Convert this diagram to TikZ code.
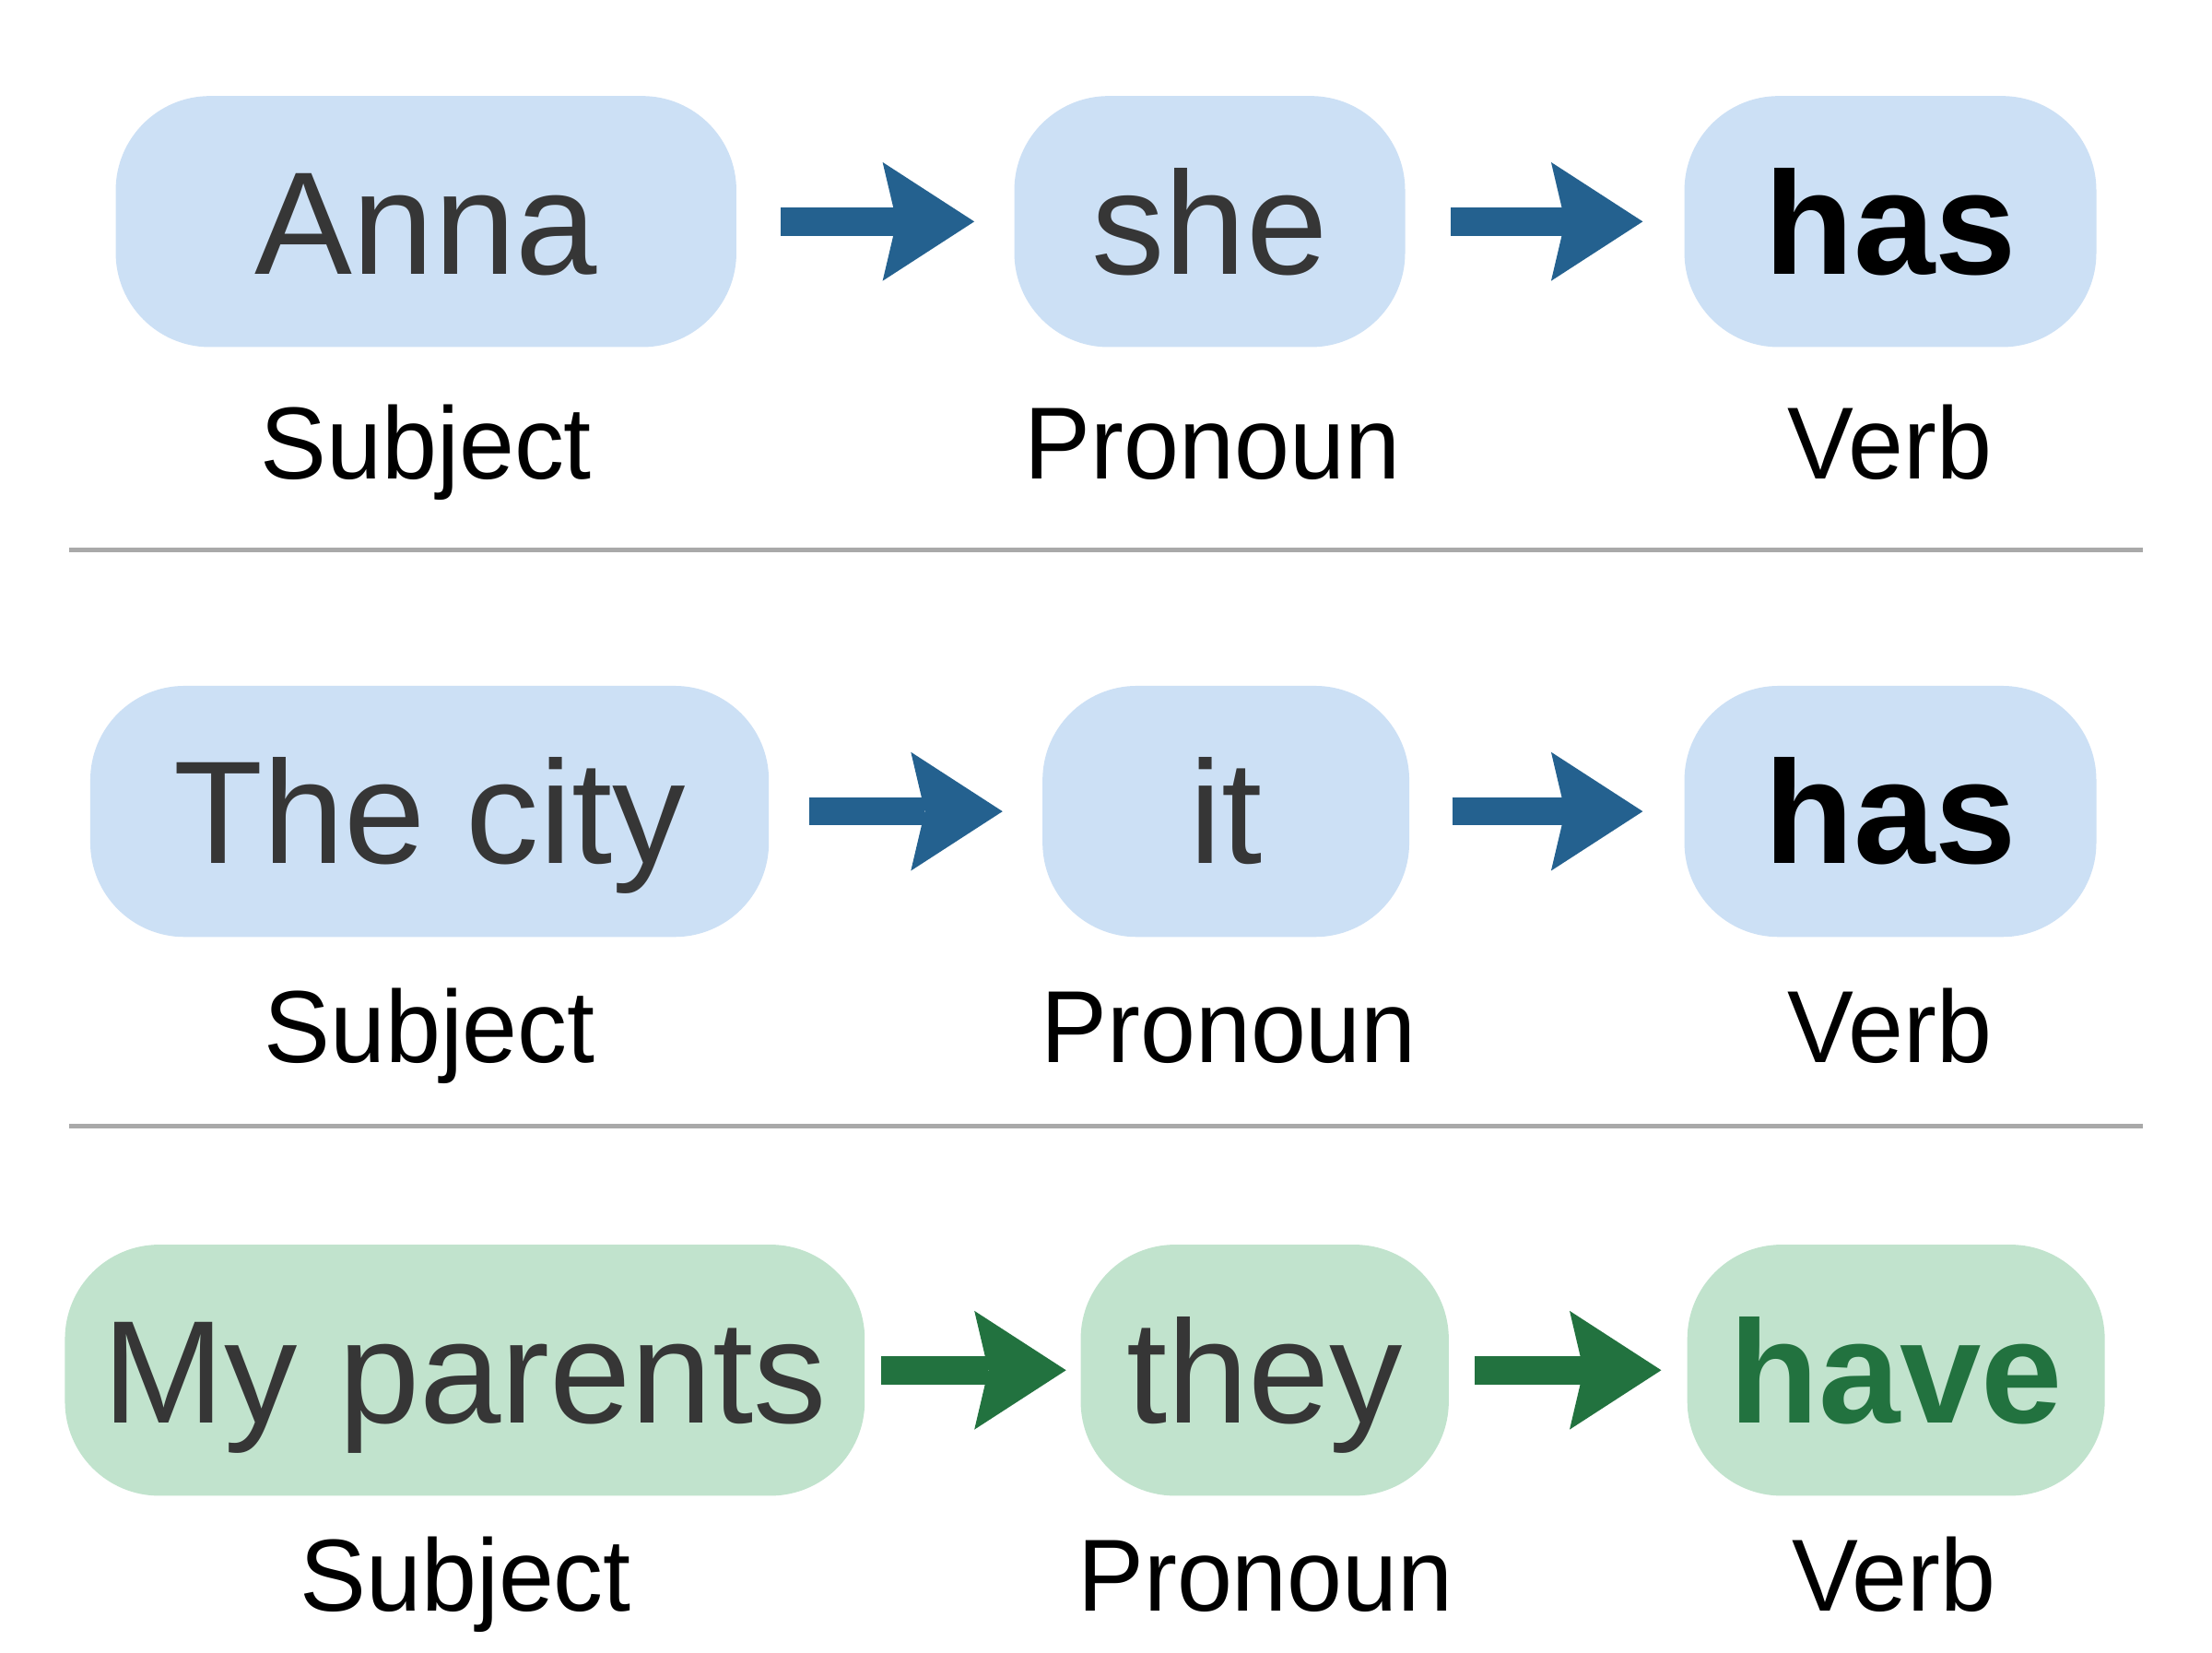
\documentclass[tikz,border=0pt]{standalone}
\usepackage{fontspec}
\setmainfont{Liberation Sans}[FakeStretch=0.97]
\newfontfamily\wordfont{Liberation Sans}
\usetikzlibrary{arrows.meta}
\definecolor{boxblue}{HTML}{CCE0F5}
\definecolor{boxgreen}{HTML}{C1E3CD}
\definecolor{arrblue}{HTML}{24618F}
\definecolor{arrgreen}{HTML}{22723F}
\definecolor{wordgray}{HTML}{363636}
\definecolor{sepgray}{HTML}{A9A9A9}
\begin{document}
\begin{tikzpicture}[x=0.4339pt,y=-0.4339pt,
  wordbox/.style={rounded corners=29pt, minimum height=77.2pt, inner sep=0pt,
    text height=32.2pt, text depth=0pt, font=\wordfont\fontsize{45}{50}\selectfont, text=wordgray},
  bluebox/.style={wordbox, fill=boxblue},
  greenbox/.style={wordbox, fill=boxgreen},
  rolelabel/.style={font=\fontsize{31.5}{36}\selectfont, inner sep=0pt,
    text height=22.5pt, text depth=0pt, text=black},
  conn/.style={line width=8.7pt,
    -{Stealth[length=28.2pt, width=36.5pt, inset=4.3pt, line width=0pt]}},
  blueconn/.style={conn, draw=arrblue},
  greenconn/.style={conn, draw=arrgreen},
  sep/.style={draw=sepgray, line width=1.4pt}
]
\useasboundingbox (0,0) rectangle (1568,1171);
\fill[white] (0,0) rectangle (1568,1171);

% Row 1
\node[bluebox, minimum width=190.9pt] (anna) at (302,157) {Anna};
\node[bluebox, minimum width=120.2pt] (she) at (857.5,157) {she};
\node[bluebox, minimum width=126.7pt, text=black] (has1) at (1340,157) {\textbf{has}};
\draw[blueconn, shorten <=13.5pt, shorten >=12.1pt] (anna.east) -- (she.west);
\draw[blueconn, shorten <=13.9pt, shorten >=12.6pt] (she.east) -- (has1.west);
\node[rolelabel] (subj1) at (302,313.5) {Subject};
\node[rolelabel] (pron1) at (859.5,313.5) {Pronoun};
\node[rolelabel] (verb1) at (1339.5,313.5) {Verb};

% separator 1
\coordinate (s1a) at (49,390);
\coordinate (s1b) at (1519,390);
\draw[sep] (s1a) -- (s1b);

% Row 2
\node[bluebox, minimum width=208.7pt] (city) at (304.5,575) {The city};
\node[bluebox, minimum width=112.8pt] (it) at (869,575) {it};
\node[bluebox, minimum width=126.7pt, text=black] (has2) at (1340,575) {\textbf{has}};
\draw[blueconn, shorten <=12.1pt, shorten >=12.1pt] (city.east) -- (it.west);
\draw[blueconn, shorten <=13.0pt, shorten >=12.6pt] (it.east) -- (has2.west);
\node[rolelabel] (subj2) at (304.5,727) {Subject};
\node[rolelabel] (pron2) at (871,727) {Pronoun};
\node[rolelabel] (verb2) at (1339.5,727) {Verb};

% separator 2
\coordinate (s2a) at (49,798);
\coordinate (s2b) at (1519,798);
\draw[sep] (s2a) -- (s2b);

% Row 3
\node[greenbox, minimum width=246.0pt] (parents) at (329.5,971) {My parents};
\node[greenbox, minimum width=113.2pt] (they) at (896.5,971) {they};
\node[greenbox, minimum width=128.4pt, text=arrgreen] (have) at (1344,971) {\textbf{have}};
\draw[greenconn, shorten <=4.8pt, shorten >=4.3pt] (parents.east) -- (they.west);
\draw[greenconn, shorten <=7.8pt, shorten >=7.8pt] (they.east) -- (have.west);
\node[rolelabel] (subj3) at (330,1116) {Subject};
\node[rolelabel] (pron3) at (897,1116) {Pronoun};
\node[rolelabel] (verb3) at (1342.5,1116) {Verb};
\end{tikzpicture}
\end{document}
